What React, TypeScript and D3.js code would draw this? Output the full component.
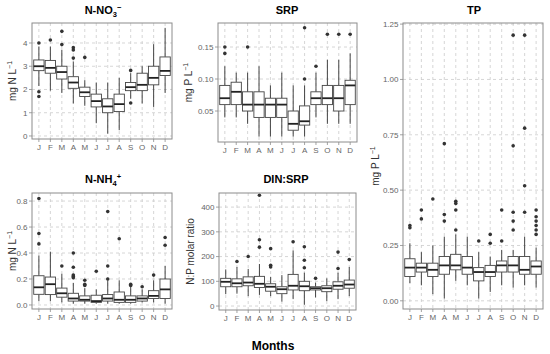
import * as d3 from 'd3';

const MONTHS = ['J', 'F', 'M', 'A', 'M', 'J', 'J', 'A', 'S', 'O', 'N', 'D'];

// [lower whisker, q1, median, q3, upper whisker]
const nitrateBox = [
  [2.15, 2.81, 3.0, 3.27, 3.85],
  [1.95, 2.7, 2.93, 3.25, 3.85],
  [1.85, 2.45, 2.75, 3.0, 3.7],
  [1.4, 2.05, 2.3, 2.55, 3.2],
  [1.3, 1.7, 1.88, 2.1, 2.4],
  [0.55, 1.25, 1.5, 1.8, 2.3],
  [0.1, 1.0, 1.27, 1.6, 2.3],
  [0.25, 1.05, 1.37, 1.8, 2.5],
  [1.6, 1.95, 2.1, 2.3, 2.7],
  [1.4, 1.95, 2.2, 2.7, 3.0],
  [1.25, 2.2, 2.5, 3.0, 3.95],
  [1.85, 2.6, 2.8, 3.4, 4.65],
];
const nitrateOut = [
  [4.0, 1.9, 1.7], [4.13], [4.5, 3.93], [3.8, 3.7, 3.35], [3.38], [], [], [], [2.82, 1.42], [], [], [],
];

const srpBox = [
  [0.04, 0.06, 0.07, 0.09, 0.12],
  [0.04, 0.06, 0.08, 0.095, 0.11],
  [0.03, 0.05, 0.06, 0.08, 0.11],
  [0.01, 0.04, 0.06, 0.08, 0.12],
  [0.01, 0.04, 0.06, 0.07, 0.09],
  [0.01, 0.04, 0.06, 0.07, 0.11],
  [0.01, 0.02, 0.03, 0.05, 0.09],
  [0.01, 0.028, 0.034, 0.058, 0.09],
  [0.04, 0.06, 0.07, 0.08, 0.11],
  [0.03, 0.06, 0.07, 0.09, 0.13],
  [0.03, 0.05, 0.07, 0.09, 0.13],
  [0.03, 0.06, 0.09, 0.098, 0.14],
];
const srpOut = [
  [0.15, 0.14], [], [0.15], [], [], [], [], [0.18, 0.1], [0.12], [0.17], [0.17], [0.17],
];

const tpBox = [
  [0.08, 0.11, 0.15, 0.19, 0.26],
  [0.07, 0.13, 0.15, 0.17, 0.22],
  [0.03, 0.11, 0.14, 0.17, 0.25],
  [0.01, 0.12, 0.16, 0.2, 0.29],
  [0.09, 0.14, 0.16, 0.21, 0.3],
  [0.07, 0.12, 0.15, 0.2, 0.29],
  [0.01, 0.09, 0.13, 0.15, 0.22],
  [0.04, 0.11, 0.13, 0.16, 0.2],
  [0.07, 0.13, 0.16, 0.18, 0.23],
  [0.06, 0.13, 0.16, 0.2, 0.23],
  [0.07, 0.12, 0.14, 0.2, 0.29],
  [0.06, 0.12, 0.155, 0.18, 0.24],
];
const tpOut = [
  [0.34, 0.33], [0.41, 0.37], [0.46], [0.39, 0.36, 0.71], [0.45, 0.44, 0.41, 0.32], [], [0.27],
  [0.3, 0.26], [0.41, 0.27], [0.4, 0.36, 0.32, 0.7, 1.2], [0.52, 0.4, 0.78, 1.2],
  [0.41, 0.38, 0.36, 0.34, 0.32, 0.3],
];

const ammoniumBox = [
  [0.03, 0.082, 0.136, 0.225, 0.38],
  [0.03, 0.08, 0.16, 0.215, 0.41],
  [0.02, 0.06, 0.09, 0.13, 0.24],
  [0.01, 0.03, 0.05, 0.09, 0.17],
  [0.01, 0.03, 0.04, 0.07, 0.13],
  [0.01, 0.02, 0.03, 0.075, 0.12],
  [0.01, 0.03, 0.05, 0.08, 0.19],
  [0.01, 0.02, 0.04, 0.1, 0.19],
  [0.01, 0.02, 0.04, 0.07, 0.14],
  [0.02, 0.03, 0.05, 0.07, 0.12],
  [0.02, 0.05, 0.07, 0.11, 0.19],
  [0.01, 0.05, 0.12, 0.2, 0.3],
];
const ammoniumOut = [
  [0.82, 0.55, 0.47], [], [0.3], [0.4, 0.29, 0.23, 0.22, 0.21], [0.19, 0.16, 0.15], [0.26],
  [0.72, 0.3, 0.2], [0.51], [0.16, 0.15], [0.14], [0.23], [0.52, 0.46],
];

const ratioBox = [
  [48, 78, 98, 112, 148],
  [50, 78, 92, 110, 158],
  [40, 82, 95, 118, 150],
  [45, 75, 90, 120, 170],
  [40, 60, 78, 90, 118],
  [18, 50, 68, 78, 125],
  [28, 65, 82, 128, 225],
  [5, 62, 80, 100, 135],
  [35, 65, 72, 78, 95],
  [20, 58, 72, 82, 112],
  [28, 68, 82, 98, 135],
  [40, 72, 87, 105, 158],
];
const ratioOut = [
  [], [180], [200], [448, 268, 238], [232, 165, 158], [], [260], [240, 185, 155], [112], [], [218, 152], [188],
];

const FONT = 'Liberation Sans, Arial, sans-serif';

interface PanelDef {
  left: number;
  right: number;
  top: number;
  bottom: number;
  domain: [number, number];
  ticks: number[];
  fmt: (v: number) => string;
  box: number[][];
  out: number[][];
  yTitleX: number;
}

function Panel({ p }: { p: PanelDef }) {
  const x = d3.scalePoint<number>().domain(d3.range(12)).range([p.left, p.right]).padding(0.6);
  const step = x.step();
  const y = d3.scaleLinear().domain(p.domain).range([p.bottom, p.top]);
  const bw = step * 0.9;
  return (
    <g>
      {/* grid */}
      {p.ticks.map((t) => (
        <line key={'h' + t} x1={p.left} x2={p.right} y1={y(t)} y2={y(t)} stroke="#cccccc" strokeWidth={0.8} strokeDasharray="3,3" />
      ))}
      {MONTHS.map((m, i) => (
        <line key={'v' + i} x1={x(i)} x2={x(i)} y1={p.top} y2={p.bottom} stroke="#cccccc" strokeWidth={0.8} strokeDasharray="3,3" />
      ))}
      {/* boxes */}
      {p.box.map((b, i) => {
        const cx = x(i)!;
        return (
          <g key={'b' + i}>
            <line x1={cx} x2={cx} y1={y(b[0])} y2={y(b[1])} stroke="#444" strokeWidth={1} />
            <line x1={cx} x2={cx} y1={y(b[3])} y2={y(b[4])} stroke="#444" strokeWidth={1} />
            <rect x={cx - bw / 2} y={y(b[3])} width={bw} height={y(b[1]) - y(b[3])} fill="white" stroke="#444" strokeWidth={0.9} />
            <line x1={cx - bw / 2} x2={cx + bw / 2} y1={y(b[2])} y2={y(b[2])} stroke="#222" strokeWidth={1.8} />
            {p.out[i].map((o, j) => (
              <circle key={j} cx={cx} cy={y(o)} r={1.8} fill="#333" />
            ))}
          </g>
        );
      })}
      <rect x={p.left} y={p.top} width={p.right - p.left} height={p.bottom - p.top} fill="none" stroke="#8c8c8c" strokeWidth={1} />
      {/* y axis */}
      {p.ticks.map((t) => (
        <g key={'t' + t}>
          <line x1={p.left - 3} x2={p.left} y1={y(t)} y2={y(t)} stroke="#8c8c8c" strokeWidth={0.8} />
          <text x={p.left - 4.5} y={y(t)} dy="0.35em" textAnchor="end" fontSize={8} fill="#666">
            {p.fmt(t)}
          </text>
        </g>
      ))}
      {/* x axis */}
      {MONTHS.map((m, i) => (
        <g key={'x' + i}>
          <line x1={x(i)} x2={x(i)} y1={p.bottom} y2={p.bottom + 3} stroke="#8c8c8c" strokeWidth={0.8} />
          <text x={x(i)} y={p.bottom + 10.5} textAnchor="middle" fontSize={8} fill="#666">
            {m}
          </text>
        </g>
      ))}
    </g>
  );
}

export default function App() {
  const f0 = d3.format('d');
  const f1 = d3.format('.1f');
  const f2 = d3.format('.2f');
  const panels: PanelDef[] = [
    { left: 32, right: 172, top: 23, bottom: 139, domain: [-0.13, 4.86], ticks: [0, 1, 2, 3, 4], fmt: f0, box: nitrateBox, out: nitrateOut, yTitleX: 12 },
    { left: 218, right: 357, top: 23, bottom: 142, domain: [0.0016, 0.1875], ticks: [0.05, 0.1, 0.15], fmt: f2, box: srpBox, out: srpOut, yTitleX: 188 },
    { left: 403, right: 543, top: 23, bottom: 309, domain: [-0.037, 1.255], ticks: [0, 0.25, 0.5, 0.75, 1, 1.25], fmt: f2, box: tpBox, out: tpOut, yTitleX: 375 },
    { left: 32, right: 172, top: 193, bottom: 309, domain: [-0.031, 0.862], ticks: [0, 0.2, 0.4, 0.6, 0.8], fmt: f1, box: ammoniumBox, out: ammoniumOut, yTitleX: 12 },
    { left: 219, right: 356, top: 193, bottom: 310, domain: [-16, 457], ticks: [0, 100, 200, 300, 400], fmt: f0, box: ratioBox, out: ratioOut, yTitleX: 190 },
  ];
  const yTitles = [
    <>mg N L<tspan dy="-4" fontSize={7}>−1</tspan></>,
    <>mg P L<tspan dy="-4" fontSize={7}>−1</tspan></>,
    <>mg P L<tspan dy="-4" fontSize={7}>−1</tspan></>,
    <>mg N L<tspan dy="-4" fontSize={7}>−1</tspan></>,
    <>N:P molar ratio</>,
  ];
  return (
    <svg width={550} height={354} style={{ position: 'absolute', left: 0, top: 0, background: 'white' }} fontFamily={FONT}>
      <rect width={550} height={354} fill="white" />
      {panels.map((p, i) => (
        <g key={i}>
          <Panel p={p} />
          <text
            transform={`translate(${p.yTitleX},${(p.top + p.bottom) / 2}) rotate(-90)`}
            textAnchor="middle"
            dy="0.35em"
            fontSize={10}
            fill="#333"
          >
            {yTitles[i]}
          </text>
        </g>
      ))}
      {/* titles */}
      <text x={103} y={14} textAnchor="middle" fontSize={11} fontWeight="bold">
        N-NO<tspan dy="3" fontSize={7.5}>3</tspan><tspan dx="0" dy="-7" fontSize={7.5}>−</tspan>
      </text>
      <text x={287} y={14} textAnchor="middle" fontSize={11} fontWeight="bold">SRP</text>
      <text x={474} y={14} textAnchor="middle" fontSize={11} fontWeight="bold">TP</text>
      <text x={103} y={183} textAnchor="middle" fontSize={11} fontWeight="bold">
        N-NH<tspan dy="3" fontSize={7.5}>4</tspan><tspan dx="0" dy="-7" fontSize={7.5}>+</tspan>
      </text>
      <text x={286} y={183} textAnchor="middle" fontSize={11} fontWeight="bold">DIN:SRP</text>
      <text x={273} y={350} textAnchor="middle" fontSize={12} fontWeight="bold">Months</text>
    </svg>
  );
}
